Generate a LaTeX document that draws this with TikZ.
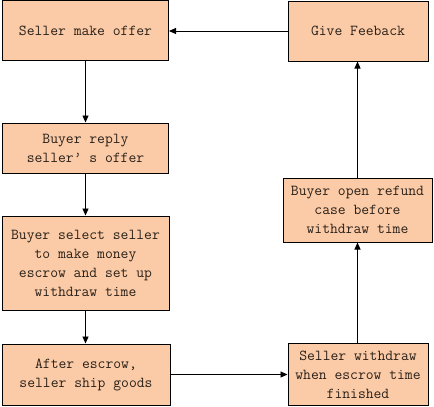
\documentclass[tikz,border=0pt]{standalone}
\usepackage{fontspec}
\usetikzlibrary{arrows.meta}
\definecolor{boxfill}{HTML}{FBCBA7}
\definecolor{txt}{HTML}{2A2018}
\tikzset{
  stepbox/.style={draw=black, line width=1pt, fill=boxfill, rectangle, align=center,
    inner sep=0pt, text=txt, font=\ttfamily\fontsize{15.2}{19}\selectfont},
  flow/.style={draw=black, line width=0.9pt, -{Triangle[length=7pt,width=6pt]}}
}
\begin{document}
\begin{tikzpicture}[x=1pt,y=-1pt]
\useasboundingbox (0,0) rectangle (434,407);
\node[stepbox, minimum width=166pt, minimum height=60pt] (offer) at (85.5,30.5) {Seller make offer};
\node[stepbox, minimum width=140pt, minimum height=60pt] (feedback) at (358,31) {Give Feeback};
\node[stepbox, minimum width=166pt, minimum height=50pt] (reply) at (85.5,148) {Buyer reply\\seller’ s offer};
\node[stepbox, minimum width=167pt, minimum height=94pt] (select) at (85.5,263) {Buyer select seller\\to make money\\escrow and set up\\withdraw time};
\node[stepbox, minimum width=168pt, minimum height=61pt] (ship) at (86,374.5) {After escrow,\\seller ship goods};
\node[stepbox, minimum width=140pt, minimum height=62pt] (withdraw) at (358,374.5) {Seller withdraw\\when escrow time\\finished};
\node[stepbox, minimum width=149pt, minimum height=64pt] (refund) at (357.5,210) {Buyer open refund\\case before\\withdraw time};
\draw[flow] (offer.south) -- (reply.north);
\draw[flow] (reply.south) -- (select.north);
\draw[flow] (select.south) -- (ship.north -| select.south);
\draw[flow] (ship.east) -- (withdraw.west |- ship.east);
\draw[flow] (withdraw.north -| refund.south) -- (refund.south);
\draw[flow] (refund.north) -- (feedback.south -| refund.north);
\draw[flow] (feedback.west) -- (offer.east |- feedback.west);
\end{tikzpicture}
\end{document}
